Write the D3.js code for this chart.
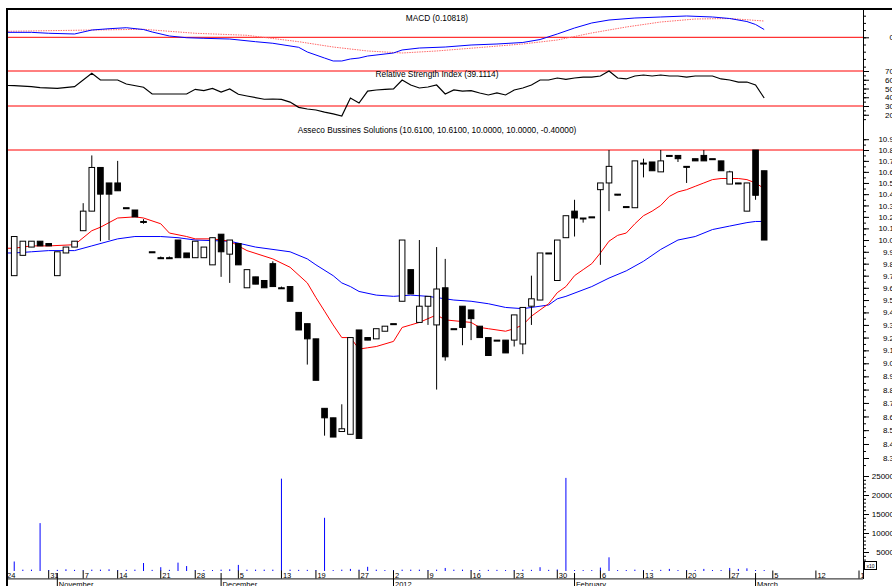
<!DOCTYPE html>
<html>
<head>
<meta charset="utf-8">
<script src="https://cdn.jsdelivr.net/npm/d3@7"></script>
<style>
body { margin: 0; background: #fff; }
svg { display: block; font-family: "Liberation Sans", Arial, sans-serif; }
</style>
</head>
<body>
<div id="chart"></div>
<script>
// trading day index, open, high, low, close
const ohlc = [
    [1, 9.70, 10.03, 9.70, 10.03], [2, 9.87, 9.99, 9.87, 9.99], [3, 9.94, 9.99, 9.94, 9.99],
    [4, 9.99, 9.99, 9.95, 9.95], [5, 9.97, 9.97, 9.95, 9.95], [6, 9.70, 9.90, 9.70, 9.90],
    [7, 9.89, 9.94, 9.89, 9.94], [8, 9.94, 9.99, 9.94, 9.99], [9, 10.08, 10.32, 10.08, 10.25],
    [10, 10.25, 10.75, 10.25, 10.64], [11, 10.64, 10.64, 9.99, 10.40], [12, 10.50, 10.50, 10.00, 10.40],
    [13, 10.50, 10.70, 10.43, 10.43], [14, 10.28, 10.28, 10.28, 10.28], [15, 10.26, 10.26, 10.20, 10.20],
    [16, 10.16, 10.18, 10.14, 10.16], [17, 9.90, 9.90, 9.90, 9.90], [18, 9.85, 9.86, 9.84, 9.85],
    [19, 9.85, 9.86, 9.84, 9.85], [20, 10.00, 10.00, 9.85, 9.85], [21, 9.89, 9.89, 9.85, 9.85],
    [22, 9.85, 9.99, 9.85, 9.99], [23, 9.85, 9.94, 9.85, 9.94], [24, 9.79, 10.02, 9.79, 10.02],
    [25, 10.05, 10.05, 9.69, 9.90], [26, 9.88, 10.00, 9.64, 10.00], [27, 9.97, 9.97, 9.79, 9.79],
    [28, 9.60, 9.75, 9.60, 9.75], [29, 9.69, 9.69, 9.63, 9.63], [30, 9.66, 9.66, 9.60, 9.60],
    [31, 9.80, 9.82, 9.61, 9.61], [32, 9.60, 9.61, 9.59, 9.60], [33, 9.61, 9.61, 9.49, 9.49],
    [34, 9.40, 9.40, 9.26, 9.26], [35, 9.31, 9.31, 8.99, 9.19], [36, 9.19, 9.19, 8.87, 8.87],
    [37, 8.66, 8.66, 8.46, 8.59], [38, 8.59, 8.59, 8.45, 8.45], [39, 8.49, 8.69, 8.49, 8.51],
    [40, 8.47, 9.20, 8.47, 9.20], [41, 9.26, 9.26, 8.44, 8.44], [42, 9.20, 9.20, 9.18, 9.18],
    [43, 9.19, 9.27, 9.19, 9.27], [44, 9.25, 9.29, 9.25, 9.29], [45, 9.31, 9.31, 9.31, 9.31],
    [46, 9.49, 10.00, 9.49, 10.00], [47, 9.75, 9.75, 9.55, 9.55], [48, 9.32, 10.00, 9.32, 9.45],
    [49, 9.45, 9.53, 9.30, 9.53], [50, 9.30, 9.94, 8.80, 9.59], [51, 9.60, 9.84, 9.02, 9.05],
    [52, 9.27, 9.27, 9.27, 9.27], [53, 9.45, 9.45, 9.14, 9.28], [54, 9.42, 9.42, 9.18, 9.35],
    [55, 9.29, 9.29, 9.20, 9.20], [56, 9.20, 9.20, 9.06, 9.06], [57, 9.18, 9.18, 9.18, 9.18],
    [58, 9.18, 9.18, 9.08, 9.08], [59, 9.18, 9.38, 9.13, 9.38], [60, 9.15, 9.44, 9.07, 9.44],
    [61, 9.45, 9.70, 9.30, 9.51], [62, 9.50, 9.89, 9.50, 9.89], [63, 9.89, 9.89, 9.89, 9.89],
    [64, 9.66, 10.00, 9.66, 10.00], [65, 10.02, 10.21, 10.02, 10.21], [66, 10.25, 10.35, 10.03, 10.19],
    [67, 10.19, 10.19, 10.15, 10.19], [68, 10.20, 10.20, 10.20, 10.20], [69, 10.44, 10.50, 9.79, 10.50],
    [70, 10.50, 10.80, 10.25, 10.65], [71, 10.40, 10.40, 10.39, 10.40], [72, 10.29, 10.29, 10.29, 10.29],
    [73, 10.28, 10.70, 10.28, 10.70], [74, 10.68, 10.72, 10.55, 10.68], [75, 10.69, 10.69, 10.61, 10.61],
    [76, 10.60, 10.80, 10.60, 10.70], [77, 10.75, 10.75, 10.75, 10.75], [78, 10.75, 10.75, 10.69, 10.72],
    [79, 10.65, 10.65, 10.50, 10.65], [80, 10.72, 10.72, 10.70, 10.70], [81, 10.75, 10.80, 10.70, 10.70],
    [82, 10.72, 10.72, 10.72, 10.72], [83, 10.70, 10.70, 10.61, 10.61], [84, 10.49, 10.61, 10.49, 10.60],
    [85, 10.50, 10.50, 10.49, 10.50], [86, 10.25, 10.50, 10.25, 10.50], [87, 10.80, 10.80, 10.35, 10.39],
    [88, 10.61, 10.61, 10.00, 10.00]
];

// volume, same order as ohlc
const volume = [
    2500, 350, 350, 12600, 250, 300, 450, 300, 200, 350, 350, 450, 250, 300, 350, 2100,
    300, 1000, 300, 2200, 1300, 250, 250, 250, 350, 450, 1600, 350, 350, 350, 350, 24300,
    350, 300, 300, 250, 14000, 250, 350, 550, 350, 1100, 350, 250, 250, 350, 350, 350,
    250, 350, 800, 350, 350, 250, 250, 300, 300, 250, 250, 350, 300, 1000, 300, 400,
    24500, 250, 250, 250, 900, 3600, 250, 250, 350, 250, 250, 300, 550, 250, 250, 250,
    550, 250, 250, 800, 550, 700, 250, 250
];

const maShort = [
    [0, 9.93], [1, 9.93], [3, 9.95], [5, 9.95], [8, 9.96], [10, 10.08], [11, 10.11], [12, 10.15],
    [13, 10.19], [15, 10.20], [16, 10.19], [18, 10.14], [19, 10.06], [21, 10.03], [22, 10.01],
    [24, 10.01], [26, 9.99], [28, 9.91], [31, 9.84], [33, 9.77], [35, 9.64], [36, 9.52], [37, 9.41],
    [38, 9.30], [39, 9.20], [40, 9.20], [41, 9.11], [42, 9.12], [43, 9.13], [45, 9.17], [46, 9.28],
    [47, 9.30], [48, 9.32], [50, 9.38], [51, 9.34], [54, 9.32], [55, 9.28], [56, 9.27], [58, 9.25],
    [59, 9.27], [60, 9.30], [61, 9.37], [62, 9.42], [63, 9.47], [64, 9.56], [65, 9.61], [66, 9.70],
    [67, 9.75], [68, 9.80], [69, 9.89], [70, 9.99], [71, 10.04], [72, 10.06], [73, 10.14], [74, 10.21],
    [75, 10.25], [76, 10.30], [77, 10.38], [78, 10.42], [79, 10.44], [80, 10.47], [81, 10.50],
    [82, 10.53], [83, 10.54], [84, 10.54], [85, 10.54], [86, 10.53], [87, 10.50], [88, 10.45]
];

const maLong = [
    [0, 9.89], [1, 9.89], [3, 9.90], [5, 9.91], [8, 9.91], [10, 9.95], [12, 9.99], [13, 10.01],
    [15, 10.03], [18, 10.03], [20, 10.02], [22, 10.00], [26, 9.99], [29, 9.94], [33, 9.90], [35, 9.84],
    [36, 9.79], [38, 9.70], [39, 9.64], [40, 9.61], [41, 9.57], [43, 9.54], [45, 9.53], [47, 9.54],
    [49, 9.53], [50, 9.52], [52, 9.50], [54, 9.49], [56, 9.47], [58, 9.44], [60, 9.43], [61, 9.44],
    [62, 9.45], [63, 9.46], [64, 9.51], [65, 9.53], [68, 9.61], [70, 9.68], [72, 9.74], [74, 9.82],
    [76, 9.92], [78, 10.00], [80, 10.03], [82, 10.09], [84, 10.12], [86, 10.15], [87, 10.16], [88, 10.16]
];

const rsi = [
    [0, 53.5], [1, 53.2], [3, 52.1], [4, 50.9], [6, 50.2], [8, 52.1], [10, 67.4], [11, 59.7], [13, 59.7],
    [14, 55.1], [16, 51.4], [17, 43.7], [21, 43.7], [22, 49.1], [23, 47.5], [24, 50.2], [25, 46],
    [26, 49.4], [27, 43.4], [28, 41.4], [30, 37.7], [31, 38], [32, 37.5], [33, 34.5], [34, 28.5],
    [35, 26.6], [36, 25.4], [37, 23], [38, 21], [39, 18.6], [40, 39.1], [41, 33.4], [42, 47.1],
    [43, 48.3], [44, 48.9], [45, 49.5], [46, 59.7], [47, 54], [48, 50.6], [49, 51.7], [50, 54],
    [51, 43.7], [52, 48.3], [53, 47.1], [54, 47.5], [55, 44.9], [56, 42.6], [57, 44.9], [58, 42.6],
    [59, 48.3], [60, 50.6], [61, 54], [62, 59.7], [63, 59.7], [64, 62], [65, 60.5], [66, 62],
    [67, 63], [68, 63.1], [69, 64.3], [70, 70], [71, 62], [72, 60.9], [73, 64.3], [74, 65.4],
    [75, 64.3], [76, 65.4], [77, 64.3], [78, 64.3], [79, 63.1], [80, 64.3], [81, 64.3], [82, 64.3],
    [83, 60.9], [84, 59.7], [85, 57.4], [86, 57.4], [87, 54], [88, 39.11]
];

const macd = [
    [0, 0.069], [3, 0.069], [5, 0.056], [8, 0.046], [10, 0.101], [12, 0.119], [14, 0.133], [16, 0.108],
    [17, 0.074], [19, 0.018], [21, -0.006], [23, -0.014], [26, -0.024], [29, -0.061], [31, -0.083],
    [34, -0.139], [35, -0.204], [37, -0.288], [38, -0.329], [39, -0.329], [40, -0.301], [41, -0.288],
    [42, -0.26], [45, -0.218], [46, -0.176], [48, -0.149], [51, -0.135], [54, -0.107], [57, -0.093],
    [60, -0.072], [62, -0.031], [64, 0.046], [66, 0.129], [68, 0.199], [70, 0.24], [73, 0.268],
    [76, 0.282], [79, 0.296], [82, 0.282], [84, 0.261], [86, 0.219], [87, 0.178], [88, 0.108]
];

const macdSignal = [
    [0, 0.083], [10, 0.101], [16, 0.111], [22, 0.056], [28, 0.028], [34, -0.061], [38, -0.135],
    [42, -0.19], [46, -0.218], [50, -0.19], [55, -0.142], [60, -0.093], [64, -0.0375], [68, 0.06],
    [72, 0.143], [76, 0.2125], [80, 0.254], [84, 0.261], [88, 0.226]
];

const weekTicks = [
    [0, "24"], [5, "31"], [9, "7"], [13, "14"], [18, "21"], [22, "28"], [27, "5"], [32, "13"],
    [36, "19"], [41, "27"], [45, "2"], [49, "9"], [54, "16"], [59, "23"], [64, "30"], [69, "6"],
    [74, "13"], [79, "20"], [84, "27"], [89, "5"], [94, "12"], [99, "19"]
];
const monthTicks = [[6, "November"], [25, "December"], [45, "2012"], [66, "February"], [87, "March"]];

const priceLabels = d3.range(83, 110).map(v => v / 10);
const priceMinor = d3.range(165, 219).map(v => v / 20);
const rsiTicks = d3.range(15, 80, 5);
const macdTicks = [-0.3, -0.2, -0.1, 0, 0.1, 0.2, 0.3];
const volLabels = [5000, 10000, 15000, 20000, 25000];
const volMinor = d3.range(1000, 26000, 1000);

const refLevel = 10.8;
const macdTitle = "MACD (0.10818)";
const rsiTitle = "Relative Strength Index (39.1114)";
const priceTitle = "Asseco Bussines Solutions (10.6100, 10.6100, 10.0000, 10.0000, -0.40000)";

const W = 892, H = 586, left = 8, right = 863;

let svg = d3.select("#chart").append("svg").attr("width", W).attr("height", H);

svg.append("defs").append("clipPath").attr("id", "plot")
    .append("rect").attr("x", left).attr("y", 10).attr("width", right - left).attr("height", H);

let x = d3.scaleLinear().domain([0, 99]).range([5.6, 859]);
let yPrice = d3.scaleLog().domain([8.3, 10.8]).range([458, 150]);
let yRsi = d3.scaleLinear().domain([30, 70]).range([106, 71]);
let yMacd = d3.scaleLinear().domain([0, 0.1]).range([37.3, 30.1]);
let yVol = d3.scaleLinear().domain([0, 25000]).range([571, 476]);

let plot = svg.append("g").attr("clip-path", "url(#plot)");

// red reference lines
let refs = [yMacd(0), yRsi(70), yRsi(30), yPrice(refLevel)];
plot.selectAll("line.ref").data(refs).join("line").classed("ref", true)
    .attr("x1", left).attr("x2", right)
    .attr("y1", d => d).attr("y2", d => d)
    .attr("stroke", "#ff0000").attr("stroke-width", 1);

// MACD
let lineOf = (ys) => d3.line().x(d => x(d[0])).y(d => ys(d[1]));
plot.append("path").datum(macdSignal).attr("d", lineOf(yMacd))
    .attr("fill", "none").attr("stroke", "#ff6a6a").attr("stroke-width", 1).attr("stroke-dasharray", "1.5,1");
plot.append("path").datum(macd).attr("d", lineOf(yMacd))
    .attr("fill", "none").attr("stroke", "#0000ff").attr("stroke-width", 1);

// RSI
plot.append("path").datum(rsi).attr("d", lineOf(yRsi))
    .attr("fill", "none").attr("stroke", "#000").attr("stroke-width", 1.2);

// moving averages
plot.append("path").datum(maLong).attr("d", lineOf(yPrice))
    .attr("fill", "none").attr("stroke", "#0000ff").attr("stroke-width", 1);
plot.append("path").datum(maShort).attr("d", lineOf(yPrice))
    .attr("fill", "none").attr("stroke", "#ff0000").attr("stroke-width", 1);

// candles
let candles = plot.append("g");
candles.selectAll("line").data(ohlc).join("line")
    .attr("x1", d => x(d[0])).attr("x2", d => x(d[0]))
    .attr("y1", d => yPrice(d[2])).attr("y2", d => yPrice(d[3]))
    .attr("stroke", "#000").attr("stroke-width", 1);
candles.selectAll("rect").data(ohlc).join("rect")
    .attr("x", d => x(d[0]) - 2.8).attr("width", 5.6)
    .attr("y", d => yPrice(Math.max(d[1], d[4])))
    .attr("height", d => Math.max(1, Math.abs(yPrice(d[1]) - yPrice(d[4]))))
    .attr("fill", d => d[4] > d[1] ? "#fff" : "#000")
    .attr("stroke", "#000").attr("stroke-width", 1);

// volume
plot.selectAll("line.vol").data(ohlc).join("line").classed("vol", true)
    .attr("x1", d => x(d[0])).attr("x2", d => x(d[0]))
    .attr("y1", yVol(0)).attr("y2", (d, i) => yVol(volume[i]))
    .attr("stroke", "#0000ff").attr("stroke-width", 1);

// titles
let titles = [[macdTitle, 21], [rsiTitle, 76.5], [priceTitle, 133]];
svg.selectAll("text.title").data(titles).join("text").classed("title", true)
    .attr("x", 437).attr("y", d => d[1]).attr("text-anchor", "middle")
    .attr("font-size", 8.3).text(d => d[0]);

// right axes
function rightAxis(scale, ticks, len, fmt) {
    let g = svg.append("g").attr("transform", `translate(${right},0)`)
        .call(d3.axisRight(scale).tickValues(ticks).tickSize(len).tickFormat(fmt || ""));
    g.select(".domain").remove();
    g.selectAll("line").attr("stroke", "#000");
    g.selectAll("text").attr("x", 31).attr("text-anchor", "end")
        .attr("font-size", 8).attr("font-family", "Liberation Sans, Arial, sans-serif").attr("fill", "#000");
    return g;
}
rightAxis(yPrice, priceMinor, 3);
rightAxis(yPrice, priceLabels, 6, d3.format(".1f"));
rightAxis(yRsi, rsiTicks, 3);
rightAxis(yRsi, [20, 30, 40, 50, 60, 70], 6, d3.format("d"));
rightAxis(yMacd, macdTicks, 3);
rightAxis(yMacd, [0], 6, d3.format("d"));
rightAxis(yVol, volMinor, 3);
rightAxis(yVol, volLabels, 6, d3.format("d"));

svg.append("rect").attr("x", 864.5).attr("y", 561.5).attr("width", 12).attr("height", 8)
    .attr("fill", "#fff").attr("stroke", "#000").attr("stroke-width", 1);
svg.append("text").attr("x", 870.5).attr("y", 567.6).attr("text-anchor", "middle")
    .attr("font-size", 5).text("x10");

svg.append("line").attr("x1", right + 0.5).attr("x2", right + 0.5).attr("y1", 10).attr("y2", 579)
    .attr("stroke", "#000");

// bottom time axis
let xAxis = svg.append("g").attr("clip-path", "url(#plot)");
xAxis.append("line").attr("x1", left).attr("x2", right).attr("y1", 578.8).attr("y2", 578.8)
    .attr("stroke", "#444").attr("stroke-width", 1.2);
xAxis.selectAll("line.wk").data(weekTicks).join("line").classed("wk", true)
    .attr("x1", d => x(d[0])).attr("x2", d => x(d[0])).attr("y1", 570.5).attr("y2", 578.5)
    .attr("stroke", "#000");
xAxis.selectAll("text.wk").data(weekTicks).join("text").classed("wk", true)
    .attr("x", d => x(d[0]) + 1.5).attr("y", 577.6).attr("font-size", 7.5).text(d => d[1]);
xAxis.selectAll("line.mo").data(monthTicks).join("line").classed("mo", true)
    .attr("x1", d => x(d[0])).attr("x2", d => x(d[0])).attr("y1", 573).attr("y2", H)
    .attr("stroke", "#000");
xAxis.selectAll("text.mo").data(monthTicks).join("text").classed("mo", true)
    .attr("x", d => x(d[0]) + 1.5).attr("y", 586.8).attr("font-size", 7.5).text(d => d[1]);

// frame
svg.append("line").attr("x1", 6).attr("x2", W).attr("y1", 9).attr("y2", 9)
    .attr("stroke", "#000").attr("stroke-width", 2);
svg.append("line").attr("x1", 7).attr("x2", 7).attr("y1", 8).attr("y2", H)
    .attr("stroke", "#000").attr("stroke-width", 2);
</script>
</body>
</html>
